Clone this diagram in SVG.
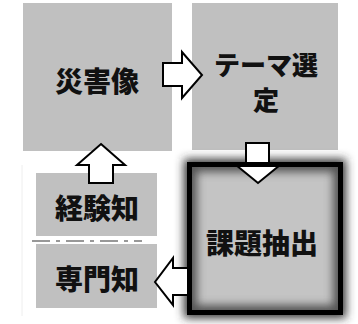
<svg xmlns="http://www.w3.org/2000/svg" width="358" height="324" viewBox="0 0 358 324">
<style>
.box{fill:#c0c0c0}
.lbl{font-family:"Noto Sans CJK JP","Noto Sans CJK SC",sans-serif;font-weight:900;font-size:28px;fill:#111;text-anchor:middle;dominant-baseline:central}
.sm{font-size:26px}
.arr{fill:#fff;stroke:#000;stroke-width:2;stroke-linejoin:miter}
</style>
<defs>
<filter id="blur8" x="-30%" y="-30%" width="160%" height="160%"><feGaussianBlur stdDeviation="5"/></filter>
<filter id="blur4" x="-30%" y="-30%" width="160%" height="160%"><feGaussianBlur stdDeviation="4"/></filter>
<clipPath id="inner"><rect x="190" y="165" width="150" height="147"/></clipPath>
</defs>
<rect width="358" height="324" fill="#fff"/>
<line x1="22" y1="165" x2="22" y2="316" stroke="#eee" stroke-width="1"/>
<g id="node-saigaizo">
<rect class="box" x="23" y="3" width="149" height="148"/>
<text class="lbl" x="97" y="80">災害像</text>
</g>
<g id="node-theme">
<rect class="box" x="192" y="3" width="146" height="147"/>
<text class="lbl sm" x="266" y="63">テーマ選</text>
<text class="lbl sm" x="266" y="98">定</text>
</g>
<g id="node-keiken">
<rect class="box" x="36" y="173" width="121" height="63"/>
<text class="lbl" x="97" y="207">経験知</text>
</g>
<line x1="32" y1="241" x2="142" y2="241" stroke="#333" stroke-width="1.2" stroke-dasharray="18,6,4,6"/>
<g id="node-senmon">
<rect class="box" x="36" y="244" width="121" height="64"/>
<text class="lbl" x="97" y="278">専門知</text>
</g>
<g id="node-kadai">
<rect x="184" y="159" width="162" height="159" fill="#333" filter="url(#blur8)"/>
<rect x="189.5" y="164.5" width="151" height="148" fill="#c4c4c4"/>
<g clip-path="url(#inner)">
<rect x="190" y="165" width="150" height="147" fill="none" stroke="#555" stroke-width="14" filter="url(#blur4)"/>
</g>
</g>
<g id="connectors">
<polygon class="arr" points="163,63 182,63 182,52 202,75 182,98 182,86 163,86"/>
<polygon class="arr" points="246,143 269,143 269,165 280,165 258,183 236,165 246,165"/>
<polygon class="arr" points="101,144 125,165 113,165 113,183 89,183 89,165 77,165"/>
<polygon class="arr" points="189,268 173,268 173,258 155,282 173,305 173,295 189,295"/>
</g>
<g id="node-kadai-frame">
<rect x="189.5" y="164.5" width="151" height="148" fill="none" stroke="#000" stroke-width="5"/>
<text class="lbl" x="262" y="242">課題抽出</text>
</g>
</svg>
